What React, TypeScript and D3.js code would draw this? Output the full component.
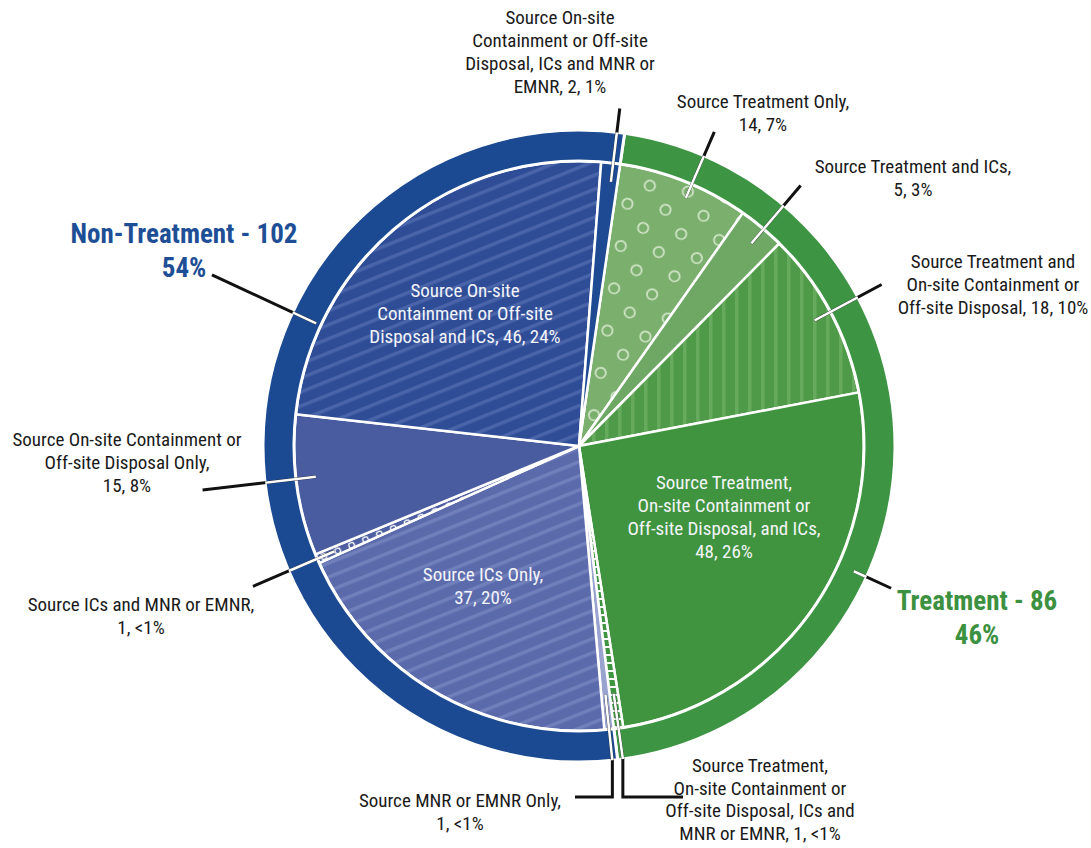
import React from "react";
import * as d3 from "d3";

// ---------- DATA ----------
const categories = [
  "Source Treatment Only",
  "Source Treatment and ICs",
  "Source Treatment and On-site Containment or Off-site Disposal",
  "Source Treatment, On-site Containment or Off-site Disposal, and ICs",
  "Source Treatment, On-site Containment or Off-site Disposal, ICs and MNR or EMNR",
  "Source MNR or EMNR Only",
  "Source ICs Only",
  "Source ICs and MNR or EMNR",
  "Source On-site Containment or Off-site Disposal Only",
  "Source On-site Containment or Off-site Disposal and ICs",
  "Source On-site Containment or Off-site Disposal, ICs and MNR or EMNR",
];
const values = [14, 5, 18, 48, 1, 1, 37, 1, 15, 46, 2];
const percents = ["7%", "3%", "10%", "26%", "<1%", "<1%", "20%", "<1%", "8%", "24%", "1%"];
const groupNames = ["Treatment", "Non-Treatment"];
const groupValues = [86, 102];
const groupPercents = ["46%", "54%"];
const labelLines = [
  ["Source Treatment Only,", "14, 7%"],
  ["Source Treatment and ICs,", "5, 3%"],
  ["Source Treatment and", "On-site Containment or", "Off-site Disposal, 18, 10%"],
  ["Source Treatment,", "On-site Containment or", "Off-site Disposal, and ICs,", "48, 26%"],
  ["Source Treatment,", "On-site Containment or", "Off-site Disposal, ICs and", "MNR or EMNR, 1, <1%"],
  ["Source MNR or EMNR Only,", "1, <1%"],
  ["Source ICs Only,", "37, 20%"],
  ["Source ICs and MNR or EMNR,", "1, <1%"],
  ["Source On-site Containment or", "Off-site Disposal Only,", "15, 8%"],
  ["Source On-site", "Containment or Off-site", "Disposal and ICs, 46, 24%"],
  ["Source On-site", "Containment or Off-site", "Disposal, ICs and MNR or", "EMNR, 2, 1%"],
];

// ---------- LAYOUT / STYLE ----------
const W = 1091, H = 848;
const CX = 579, CY = 446, R_IN = 285, R_OUT = 316;
const START = (8.3 * Math.PI) / 180;
const FONT = "'Liberation Sans Narrow', 'Arial Narrow', 'Roboto Condensed', 'DejaVu Sans Condensed', sans-serif";
const BLUE = "#1b4a92";
const GREEN = "#3d9443";
const sliceFills = [
  "url(#pDots)", "#6fa865", "url(#pVert)", "#40943f", "url(#pLadder)",
  "#9aa3cf", "url(#pStripeLight)", "url(#pSmallDots)", "#4a5ca0", "url(#pStripeDark)", "#1d4a93",
];
const groupFills = [GREEN, BLUE];
const groupColors = ["#3c9140", "#1e4f96"];

type Leader = { kind: "radial"; r0: number; r1: number; da?: number } | { kind: "elbow"; r0: number; y: number; x: number };
const labelLayout: { x: number; y: number; white?: boolean; lh?: number; leader?: Leader }[] = [
  { x: 763, y: 108, leader: { kind: "radial", r0: 270, r1: 342, da: 1.6 } },
  { x: 913, y: 173, leader: { kind: "radial", r0: 266, r1: 342, da: 0.5 } },
  { x: 993, y: 268, leader: { kind: "radial", r0: 267, r1: 343 } },
  { x: 724, y: 489, white: true },
  { x: 760, y: 772, lh: 22.5, leader: { kind: "elbow", r0: 250, y: 797, x: 683 } },
  { x: 460, y: 807, leader: { kind: "elbow", r0: 250, y: 797, x: 575 } },
  { x: 483, y: 581, white: true },
  { x: 141, y: 611, leader: { kind: "radial", r0: 266, r1: 355 } },
  { x: 127, y: 446, leader: { kind: "radial", r0: 265, r1: 379, da: 1.3 } },
  { x: 465, y: 297, white: true },
  { x: 560, y: 24, leader: { kind: "radial", r0: 266, r1: 340, da: 0.5 } },
];
const groupLayout = [
  { x: 977, y: 610, angle: 114.5, r0: 302, r1: 343 },
  { x: 184, y: 243, angle: 295, r0: 290, r1: 405 },
];
const LINE_H = 23;

const polar = (a: number, r: number): [number, number] => [CX + r * Math.sin(a), CY - r * Math.cos(a)];
const rad = (deg: number) => (deg * Math.PI) / 180;

export default function App() {
  const pie = d3
    .pie<number>()
    .sort(null)
    .value((d) => d)
    .startAngle(START)
    .endAngle(START + 2 * Math.PI);
  const arcs = pie(values);
  const gArcs = pie(groupValues);
  const arcIn = d3.arc<d3.PieArcDatum<number>>().innerRadius(0).outerRadius(R_IN);
  const arcRing = d3.arc<d3.PieArcDatum<number>>().innerRadius(R_IN).outerRadius(R_OUT);

  const leaderPaths: string[] = [];
  arcs.forEach((a, i) => {
    const L = labelLayout[i].leader;
    if (!L) return;
    const mid = (a.startAngle + a.endAngle) / 2;
    if (L.kind === "radial") {
      const ang = mid + rad(L.da || 0);
      const p0 = polar(ang, L.r0), p1 = polar(ang, L.r1);
      leaderPaths.push(d3.line()([p0, p1]) as string);
    } else {
      const p0 = polar(mid, L.r0);
      const p1 = polar(mid, R_OUT);
      leaderPaths.push(d3.line()([p0, p1, [p1[0], L.y], [L.x, L.y]]) as string);
    }
  });
  groupLayout.forEach((g) => {
    const p0 = polar(rad(g.angle), g.r0), p1 = polar(rad(g.angle), g.r1);
    leaderPaths.push(d3.line()([p0, p1]) as string);
  });

  return (
    <div style={{ position: "absolute", left: 0, top: 0, width: W, height: H, background: "#fff" }}>
      <svg width={W} height={H} style={{ display: "block" }}>
        <defs>
          <pattern id="pStripeDark" patternUnits="userSpaceOnUse" width={14} height={13} patternTransform="rotate(-22)">
            <rect width={14} height={13} fill="#2f4d97" />
            <rect y={0} width={14} height={3.5} fill="#4964a9" />
          </pattern>
          <pattern id="pStripeLight" patternUnits="userSpaceOnUse" width={14} height={13} patternTransform="rotate(-22)">
            <rect width={14} height={13} fill="#5a6aab" />
            <rect y={0} width={14} height={3.5} fill="#717fbb" />
          </pattern>
          <pattern id="pDots" patternUnits="userSpaceOnUse" width={38.5} height={42.8} patternTransform="rotate(9)">
            <rect width={38.5} height={42.8} fill="#7baf6d" />
            <circle cx={10} cy={10} r={5.2} fill="none" stroke="#d4e7cb" strokeWidth={1.7} />
            <circle cx={29.25} cy={31.4} r={5.2} fill="none" stroke="#d4e7cb" strokeWidth={1.7} />
          </pattern>
          <pattern id="pVert" patternUnits="userSpaceOnUse" width={13} height={10}>
            <rect width={13} height={10} fill="#4f9a48" />
            <rect x={0} width={3.5} height={10} fill="#66aa5e" />
          </pattern>
          <pattern id="pLadder" patternUnits="userSpaceOnUse" width={10} height={8}>
            <rect width={10} height={8} fill="#3f9442" />
            <rect y={0} width={10} height={2} fill="#ffffff" />
          </pattern>
          <pattern id="pSmallDots" patternUnits="userSpaceOnUse" width={15} height={15} patternTransform="rotate(-22)">
            <rect width={15} height={15} fill="#4d5fa2" />
            <circle cx={7} cy={7} r={2.8} fill="none" stroke="#ffffff" strokeWidth={1.3} />
          </pattern>
          <clipPath id="inCircle">
            <circle cx={CX} cy={CY} r={R_OUT} />
          </clipPath>
        </defs>

        <g transform={`translate(${CX},${CY})`}>
          {arcs.map((a, i) => (
            <path key={categories[i]} d={arcIn(a) as string} fill={sliceFills[i]} stroke="#fff" strokeWidth={2.5} strokeLinejoin="round" />
          ))}
          {gArcs.map((a, i) => (
            <path key={groupNames[i]} d={arcRing(a) as string} fill={groupFills[i]} stroke="#fff" strokeWidth={3} />
          ))}
        </g>

        <g fill="none">
          {leaderPaths.map((d, i) => (
            <path key={"b" + i} d={d} stroke="#111" strokeWidth={3} />
          ))}
          <g clipPath="url(#inCircle)">
            {leaderPaths.map((d, i) => (
              <path key={"w" + i} d={d} stroke="#fff" strokeWidth={2.6} />
            ))}
          </g>
        </g>

        <g fontFamily={FONT} fontStretch="condensed" fontSize={19} textAnchor="middle">
          {labelLines.map((lines, i) => (
            <text key={"t" + i} x={labelLayout[i].x} y={labelLayout[i].y} fill={labelLayout[i].white ? "#f3f4f9" : "#1a1a1a"}>
              {lines.map((ln, j) => (
                <tspan key={j} x={labelLayout[i].x} dy={j === 0 ? 0 : labelLayout[i].lh || LINE_H}>
                  {ln}
                </tspan>
              ))}
            </text>
          ))}
        </g>

        <g fontFamily={FONT} fontStretch="condensed" fontSize={27} fontWeight="bold" textAnchor="middle">
          {groupNames.map((g, i) => (
            <text key={g} x={groupLayout[i].x} y={groupLayout[i].y} fill={groupColors[i]}>
              <tspan x={groupLayout[i].x}>{`${g} - ${groupValues[i]}`}</tspan>
              <tspan x={groupLayout[i].x} dy={34}>{groupPercents[i]}</tspan>
            </text>
          ))}
        </g>
      </svg>
    </div>
  );
}
